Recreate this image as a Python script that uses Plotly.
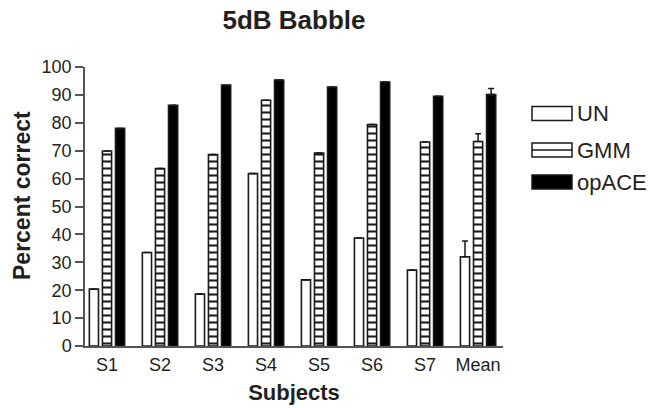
import plotly.graph_objects as go

categories = ["S1", "S2", "S3", "S4", "S5", "S6", "S7", "Mean"]
series_names = ["UN", "GMM", "opACE"]
un_values = [20.4, 33.5, 18.6, 61.8, 23.7, 38.7, 27.2, 32.0]
gmm_values = [69.9, 63.6, 68.6, 88.1, 69.2, 79.4, 73.1, 73.3]
opace_values = [78.0, 86.3, 93.5, 95.3, 92.8, 94.6, 89.5, 90.1]
# upper error only (on the Mean group)
un_err = [0, 0, 0, 0, 0, 0, 0, 5.6]
gmm_err = [0, 0, 0, 0, 0, 0, 0, 2.8]
opace_err = [0, 0, 0, 0, 0, 0, 0, 2.2]
y_ticks = [0, 10, 20, 30, 40, 50, 60, 70, 80, 90, 100]

TXT = "#231f20"
LINE = "#1a1a1a"
FONT = "Liberation Sans, Arial, sans-serif"

# figure geometry (pixels)
W, H = 650, 408
ML, MR, MT, MB = 85, 147, 67, 62
PW, PH = W - ML - MR, H - MT - MB


def err(vals):
    return dict(type="data", symmetric=False, array=vals,
                arrayminus=[0] * len(vals), visible=True,
                color=LINE, thickness=1.5, width=3)


fig = go.Figure()
fig.add_bar(name=series_names[0], x=categories, y=un_values,
            marker=dict(color="white", line=dict(color=LINE, width=1.6)),
            error_y=err(un_err), showlegend=False)
fig.add_bar(name=series_names[1], x=categories, y=gmm_values,
            marker=dict(color="white", line=dict(color=LINE, width=1.6),
                        pattern=dict(shape="-", fgcolor=LINE, bgcolor="white",
                                     size=7, solidity=0.3, fillmode="replace")),
            error_y=err(gmm_err), showlegend=False)
fig.add_bar(name=series_names[2], x=categories, y=opace_values,
            marker=dict(color="black", line=dict(color=LINE, width=1.6)),
            error_y=err(opace_err), showlegend=False)


def px_x(p):
    return (p - ML) / PW


def px_y(p):
    return (H - MB - p) / PH


# custom legend (wide swatches like the reference)
legend_rows = [113.5, 150, 182]
sx0, sx1 = 532, 572
for name, cy in zip(series_names, legend_rows):
    fill = "black" if name == "opACE" else "white"
    fig.add_shape(type="rect", xref="paper", yref="paper",
                  x0=px_x(sx0), x1=px_x(sx1), y0=px_y(cy + 7), y1=px_y(cy - 7),
                  line=dict(color=LINE, width=1.5), fillcolor=fill)
    if name == "GMM":
        fig.add_shape(type="line", xref="paper", yref="paper",
                      x0=px_x(sx0), x1=px_x(sx1), y0=px_y(cy), y1=px_y(cy),
                      line=dict(color=LINE, width=1.5))
    fig.add_annotation(text=name, xref="paper", yref="paper",
                       x=px_x(575), y=px_y(cy), xanchor="left", yanchor="middle",
                       showarrow=False, font=dict(size=22, color=TXT, family=FONT))

# y axis title placed like the reference (slightly above plot centre)
fig.add_annotation(text="<b>Percent correct</b>", xref="paper", yref="paper",
                   x=px_x(22), y=px_y(196), xanchor="center", yanchor="middle",
                   textangle=-90, showarrow=False,
                   font=dict(size=23, color=TXT, family=FONT))

fig.update_layout(
    width=W, height=H,
    margin=dict(l=ML, r=MR, t=MT, b=MB, autoexpand=False),
    paper_bgcolor="white", plot_bgcolor="white",
    barmode="group", bargap=0.26, bargroupgap=0.3,
    font=dict(family=FONT, color=TXT, size=18),
    title=dict(text="<b>5dB Babble</b>", x=(ML + PW / 2) / W, xanchor="center",
               y=1 - 20 / H, yanchor="middle",
               font=dict(size=26, color=TXT, family=FONT)),
    xaxis=dict(range=[-0.415, 7.47], showline=True, linecolor="#555", linewidth=1.5,
               ticks="", showgrid=False, zeroline=False, ticklabelstandoff=2,
               automargin=False,
               tickfont=dict(size=18, color=TXT),
               title=dict(text="<b>Subjects</b>", font=dict(size=22, color=TXT), standoff=10)),
    yaxis=dict(range=[0, 100], tickvals=y_ticks, showline=True, linecolor="#555",
               linewidth=1.5, ticks="outside", ticklen=8, tickcolor="#555", tickwidth=1.5,
               showgrid=False, zeroline=False, automargin=False,
               tickfont=dict(size=18, color=TXT)),
)

fig.write_html("out.html")
